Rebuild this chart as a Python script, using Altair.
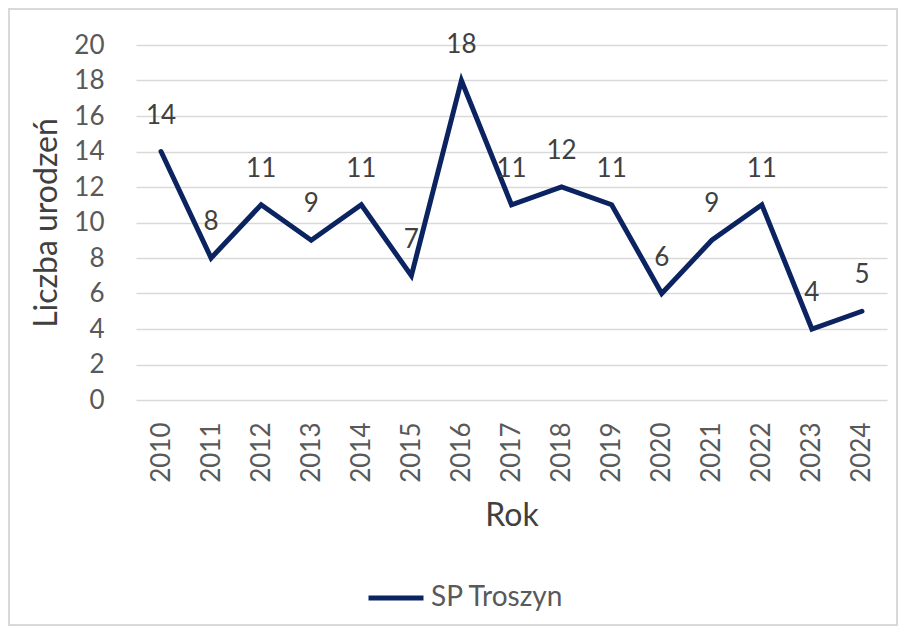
import altair as alt
import pandas as pd

years = [str(y) for y in range(2010, 2025)]
births = [14, 8, 11, 9, 11, 7, 18, 11, 12, 11, 6, 9, 11, 4, 5]
series = ["SP Troszyn"] * len(years)

df = pd.DataFrame({"Rok": years, "Liczba": births, "Seria": series})

FONT = "Lato"
W, H = 751, 355

base = alt.Chart(df).encode(
    x=alt.X("Rok:N", sort=years,
            scale=alt.Scale(paddingOuter=0.5, paddingInner=0),
            axis=alt.Axis(title="Rok", labelAngle=-90, labelFontSize=26,
                          labelColor="#595959", labelFont=FONT, titleFont=FONT,
                          titleFontSize=32, titleFontWeight="normal", titleColor="#404040",
                          titlePadding=18, domain=False, ticks=False, labelPadding=22,
                          grid=False)),
    y=alt.Y("Liczba:Q", scale=alt.Scale(domain=[0, 20]),
            axis=alt.Axis(title="Liczba urodzeń", values=list(range(0, 21, 2)),
                          labelFontSize=26, labelColor="#595959", labelFont=FONT,
                          titleFont=FONT, titleFontSize=32, titleFontWeight="normal",
                          titleColor="#404040", titlePadding=10, domain=False,
                          ticks=False, labelPadding=32, gridColor="#d9d9d9",
                          gridWidth=1.5)),
)

line = base.mark_line(strokeWidth=5, strokeJoin="miter", strokeCap="round").encode(
    color=alt.Color("Seria:N", scale=alt.Scale(range=["#0b2461"]),
                    legend=alt.Legend(title=None, orient="none", legendX=230, legendY=523,
                                      symbolType="stroke", symbolSize=3025,
                                      symbolStrokeWidth=5, labelFont=FONT,
                                      labelFontSize=28, labelColor="#595959",
                                      labelOffset=5))
)

labels = base.mark_text(dy=-36, fontSize=26, font=FONT, color="#404040").encode(
    text="Liczba:Q"
)

frame = alt.Chart(df).mark_rect(fill=None, stroke="#d9d9d9", strokeWidth=1.5,
                                clip=False).encode(
    x=alt.value(-127), x2=alt.value(761), y=alt.value(-36), y2=alt.value(580)
)

chart = alt.layer(frame, line, labels).properties(
    width=W, height=H,
    autosize=alt.AutoSizeParams(type="none"),
    padding={"left": 128, "top": 37, "right": 11, "bottom": 230},
).configure_view(stroke=None)

chart.save("out.html", embed_options={"renderer": "svg", "actions": False})
